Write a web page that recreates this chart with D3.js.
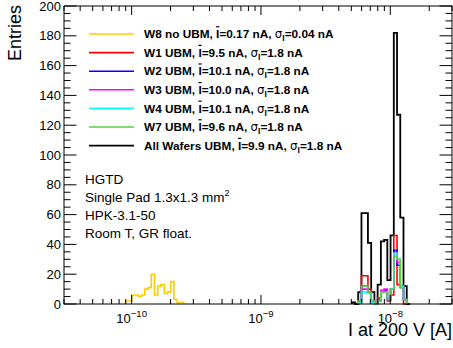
<!DOCTYPE html>
<html>
<head>
<meta charset="utf-8">
<script src="https://cdn.jsdelivr.net/npm/d3@7/dist/d3.min.js"></script>
<style>
  body { margin: 0; background: #fff; }
  text { font-family: "Liberation Sans", Arial, Helvetica, sans-serif; fill: #000; }
</style>
</head>
<body>
<svg id="chart" width="453" height="348"></svg>
<script>
// histogram binning: 120 log bins between 3e-11 and 3e-8 A
const xRange = [3e-11, 3e-8];
const nBins = 120;
const yRange = [0, 200];
const yTickValues = [0, 20, 40, 60, 80, 100, 120, 140, 160, 180, 200];
const xTickExps = [-10, -9, -8];

// bin contents, each series starts at the given bin index
const w8Start = 19;
const w8Counts = [2, 2, 6, 6, 5, 6, 10, 11, 20, 6, 12, 13, 7, 8, 15, 3, 1, 1];

const allStart = 89;
const allCounts = [1, 0, 8, 61, 61, 41, 8, 0, 13, 42, 43, 16, 46, 182, 127, 58, 12, 0];

const w1Start = 91;
const w1Counts = [2, 19, 19, 10, 2, 0, 4, 9, 8, 2, 6, 46, 13, 12, 0];
const w2Start = 91;
const w2Counts = [1, 12, 12, 8, 1, 0, 2, 8, 9, 3, 10, 36, 26, 12, 3];
const w3Start = 91;
const w3Counts = [2, 10, 10, 8, 2, 0, 3, 9, 10, 4, 10, 34, 28, 11, 3];
const w4Start = 91;
const w4Counts = [1, 8, 8, 7, 1, 0, 2, 8, 8, 4, 10, 34, 30, 12, 3];
const w7Start = 91;
const w7Counts = [2, 12, 12, 8, 2, 0, 2, 8, 8, 3, 10, 32, 30, 11, 3];

const series = [
  { label: "W8 no UBM", mean: "0.17", sigma: "0.04", color: "#ffcc00", start: w8Start, counts: w8Counts },
  { label: "W1 UBM", mean: "9.5", sigma: "1.8", color: "#ff0000", start: w1Start, counts: w1Counts },
  { label: "W2 UBM", mean: "10.1", sigma: "1.8", color: "#0000ff", start: w2Start, counts: w2Counts },
  { label: "W3 UBM", mean: "10.0", sigma: "1.8", color: "#ff00ff", start: w3Start, counts: w3Counts },
  { label: "W4 UBM", mean: "10.1", sigma: "1.8", color: "#00ffff", start: w4Start, counts: w4Counts },
  { label: "W7 UBM", mean: "9.6", sigma: "1.8", color: "#5ccc44", start: w7Start, counts: w7Counts },
  { label: "All Wafers UBM", mean: "9.9", sigma: "1.8", color: "#000000", start: allStart, counts: allCounts }
];
const drawOrder = [0, 6, 1, 2, 3, 4, 5];

const infoLines = ["HGTD", "Single Pad 1.3x1.3 mm", "HPK-3.1-50", "Room T, GR float."];

const margin = { left: 64, right: 1, top: 6, bottom: 44 };
const width = 453, height = 348;

const svg = d3.select("#chart");
const x = d3.scaleLog().domain(xRange).range([margin.left, width - margin.right]);
const y = d3.scaleLinear().domain(yRange).range([height - margin.bottom, margin.top]);

const logLo = Math.log10(xRange[0]), logHi = Math.log10(xRange[1]);
const edge = k => Math.pow(10, logLo + (logHi - logLo) * k / nBins);

// histograms
const line = d3.line().x(d => x(d[0])).y(d => y(d[1])).curve(d3.curveStepAfter);
drawOrder.forEach(i => {
  const s = series[i];
  const pts = [[edge(s.start), 0]];
  s.counts.forEach((c, j) => pts.push([edge(s.start + j), c]));
  pts.push([edge(s.start + s.counts.length), 0]);
  svg.append("path")
    .attr("d", line(pts))
    .attr("fill", "none")
    .attr("stroke", s.color)
    .attr("stroke-width", i === 6 ? 1.8 : 1.6);
});

// axes
const yMinor = d3.range(0, 201, 5);
const g = svg.append("g").attr("stroke", "#000").attr("stroke-width", 1);
yMinor.forEach(v => {
  const len = v % 20 === 0 ? 12.5 : 6.5;
  g.append("line").attr("x1", x.range()[0]).attr("x2", x.range()[0] + len)
    .attr("y1", y(v)).attr("y2", y(v));
  g.append("line").attr("x1", x.range()[1]).attr("x2", x.range()[1] - len)
    .attr("y1", y(v)).attr("y2", y(v));
});
const xMinor = [];
for (let e = -11; e <= -8; e++) {
  for (let m = 1; m <= 9; m++) {
    const v = m * Math.pow(10, e);
    if (v >= xRange[0] * 0.999 && v <= xRange[1] * 1.001) xMinor.push({ v, major: m === 1 });
  }
}
xMinor.forEach(t => {
  const len = t.major ? 9 : 5;
  g.append("line").attr("x1", x(t.v)).attr("x2", x(t.v))
    .attr("y1", y.range()[0]).attr("y2", y.range()[0] - len);
  g.append("line").attr("x1", x(t.v)).attr("x2", x(t.v))
    .attr("y1", y.range()[1]).attr("y2", y.range()[1] + len);
});
svg.append("rect")
  .attr("x", x.range()[0]).attr("y", y.range()[1])
  .attr("width", x.range()[1] - x.range()[0])
  .attr("height", y.range()[0] - y.range()[1])
  .attr("fill", "none").attr("stroke", "#000").attr("stroke-width", 1);

// tick labels
svg.append("g").selectAll("text").data(yTickValues).join("text")
  .attr("x", x.range()[0] - 3)
  .attr("y", d => y(d))
  .attr("dy", "0.36em")
  .attr("text-anchor", "end")
  .attr("font-size", 13)
  .text(d => d);

xTickExps.forEach(e => {
  const t = svg.append("text")
    .attr("x", x(Math.pow(10, e)))
    .attr("y", 323)
    .attr("text-anchor", "middle")
    .attr("font-size", 13);
  t.append("tspan").text("10");
  t.append("tspan").attr("dy", -6).attr("font-size", 9.5).text("\u2212" + Math.abs(e));
});

// axis titles
svg.append("text")
  .attr("x", x.range()[1]).attr("y", 336)
  .attr("text-anchor", "end").attr("font-size", 18)
  .text("I at 200 V [A]");
svg.append("text")
  .attr("transform", `translate(21,${y.range()[1] - 1}) rotate(-90)`)
  .attr("text-anchor", "end").attr("font-size", 18)
  .text("Entries");

// legend
const leg = svg.append("g");
series.forEach((s, i) => {
  const ly = 34 + i * 18.6;
  leg.append("line").attr("x1", 89).attr("x2", 134).attr("y1", ly).attr("y2", ly)
    .attr("stroke", s.color).attr("stroke-width", 1.6);
  const t = leg.append("text").attr("x", 144).attr("y", ly + 4.2)
    .attr("font-size", 11.8).attr("font-weight", "bold");
  t.append("tspan").text(s.label + ", ");
  t.append("tspan").attr("text-decoration", "overline").text("I");
  t.append("tspan").text("=" + s.mean + " nA, ");
  t.append("tspan").attr("font-family", "DejaVu Sans").attr("font-weight", "normal").text("\u03c3");
  t.append("tspan").attr("dy", 3).attr("font-size", 8.5).text("I");
  t.append("tspan").attr("dy", -3).text("=" + s.sigma + " nA");
});

// info text
infoLines.forEach((s, i) => {
  const t = svg.append("text").attr("x", 85).attr("y", 183.5 + i * 18.2).attr("font-size", 13.5);
  t.append("tspan").text(s);
  if (i === 1) t.append("tspan").attr("dy", -6).attr("font-size", 9).text("2");
});
</script>
</body>
</html>
